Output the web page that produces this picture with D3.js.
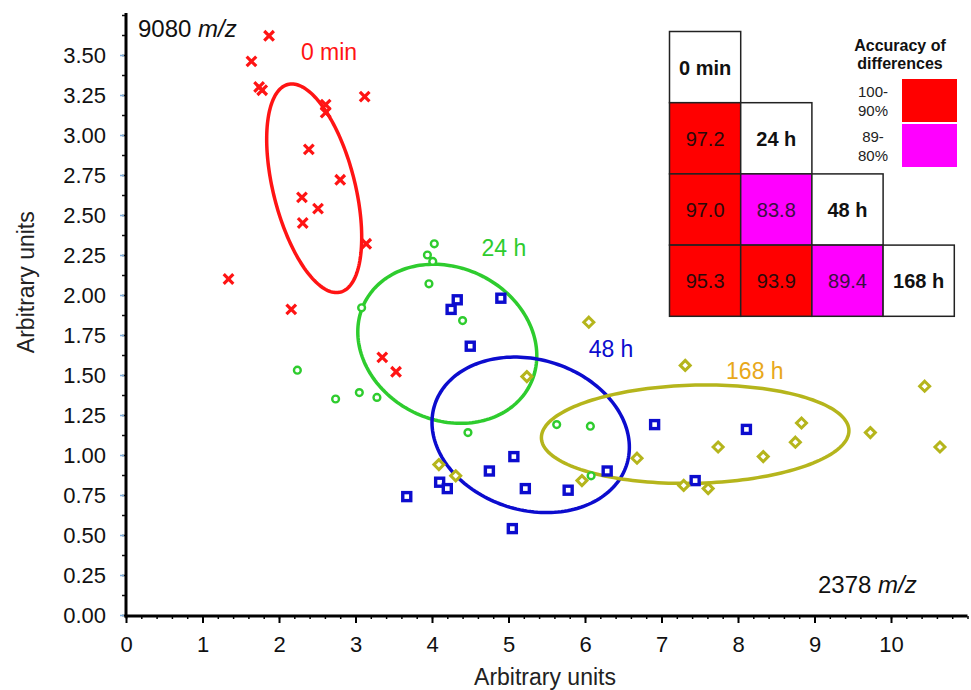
<!DOCTYPE html>
<html><head><meta charset="utf-8">
<script src="https://cdn.jsdelivr.net/npm/d3@7"></script>
<style>html,body{margin:0;padding:0;background:#fff;}svg{display:block;font-family:"Liberation Sans",Arial,sans-serif;}</style>
</head><body>
<script>
// ---- data ----
const groups = ["0 min", "24 h", "48 h", "168 h"];
const red0min = [[1.87,3.62],[1.64,3.46],[1.74,3.30],[1.78,3.28],[3.12,3.24],[2.61,3.19],[2.61,3.14],[2.39,2.91],[2.80,2.72],[2.30,2.61],[2.51,2.54],[2.31,2.45],[3.14,2.32],[1.34,2.10],[2.16,1.91],[3.35,1.61],[3.53,1.52]];
const green24h = [[4.03,2.32],[3.94,2.25],[4.01,2.21],[3.96,2.07],[3.08,1.92],[4.40,1.84],[2.24,1.53],[3.05,1.39],[2.74,1.35],[3.28,1.36],[4.47,1.14],[5.63,1.19],[6.07,1.18],[6.08,0.87]];
const blue48h = [[4.33,1.97],[4.25,1.91],[4.90,1.98],[4.50,1.68],[5.07,0.99],[4.75,0.90],[5.22,0.79],[4.10,0.83],[4.20,0.79],[3.67,0.74],[5.05,0.54],[5.78,0.78],[6.29,0.90],[6.91,1.19],[8.11,1.16],[7.44,0.84]];
const yellow168h = [[5.24,1.49],[4.09,0.94],[4.31,0.87],[6.05,1.83],[7.31,1.56],[10.44,1.43],[8.83,1.20],[9.73,1.14],[10.64,1.05],[7.74,1.05],[8.75,1.08],[8.33,0.99],[6.68,0.98],[5.96,0.84],[7.29,0.81],[7.61,0.79]];
// ellipses: centre x, centre y, half-width, half-height (data units), correlation
const ellipseCx = [2.46, 4.20, 5.29, 7.44];
const ellipseCy = [2.667, 1.695, 1.126, 1.13];
const ellipseRx = [0.621, 1.17, 1.29, 2.01];
const ellipseRy = [0.652, 0.497, 0.486, 0.3075];
const ellipseRho = [-0.47, -0.15, -0.16, 0.07];
// group label anchor points (data units)
const labelX = [2.654, 4.94, 6.34, 8.22];
const labelY = [3.47, 2.244, 1.6125, 1.475];
const xTicks = [0,1,2,3,4,5,6,7,8,9,10];
const yTicks = [0,0.25,0.5,0.75,1,1.25,1.5,1.75,2,2.25,2.5,2.75,3,3.25,3.5];
// accuracy table (lower triangle)
const accuracy = [[null],[97.2,null],[97.0,83.8,null],[95.3,93.9,89.4,null]];
const legendLabels = [["100-","90%"],["89-","80%"]];

// ---- drawing ----
const W = 971, H = 690;
const svg = d3.select("body").append("svg").attr("width", W).attr("height", H);
const x = d3.scaleLinear().domain([0, 11]).range([126, 967.5]);
const y = d3.scaleLinear().domain([0, 3.7625]).range([615, 13]);

const colors = ["#ff1414", "#2ecc2e", "#0c0cce", "#b5b51c"];
const labelColors = ["#ff1414", "#2ecc2e", "#0c0cce", "#e8a81a"];
const FONT = "Liberation Sans, Arial, sans-serif";

// axes
const gx = svg.append("g").attr("transform", `translate(0,${y(0)+1})`);
gx.call(d3.axisBottom(x).tickValues(d3.range(0, 11.01, 0.2)).tickSize(3).tickFormat(""));
gx.selectAll(".tick line").attr("stroke", "#000").attr("stroke-width", 1.5);
const gx2 = svg.append("g").attr("transform", `translate(0,${y(0)+1})`);
gx2.call(d3.axisBottom(x).tickValues(xTicks).tickSize(7).tickPadding(13).tickFormat(d3.format("d")));
gx2.selectAll(".tick line").attr("stroke", "#000").attr("stroke-width", 2);
gx2.selectAll(".tick text").attr("font-size", 22).attr("fill", "#111").attr("font-family", FONT);
gx.select(".domain").remove(); gx2.select(".domain").remove();

const gy = svg.append("g").attr("transform", `translate(${x(0)},0)`);
gy.call(d3.axisLeft(y).tickValues(d3.range(0, 3.76, 0.125)).tickSize(4).tickFormat(""));
gy.selectAll(".tick line").attr("stroke", "#111").attr("stroke-width", 1.5);
gy.select(".domain").remove();
const gy2 = svg.append("g").attr("transform", `translate(${x(0)-2},0)`);
gy2.call(d3.axisLeft(y).tickValues(yTicks).tickSize(4).tickPadding(14).tickFormat(d3.format(".2f")));
gy2.selectAll(".tick line").attr("stroke", "#7fb0e0").attr("stroke-width", 1.5);
gy2.selectAll(".tick text").attr("font-size", 22).attr("fill", "#111").attr("font-family", FONT);
gy2.select(".domain").remove();

svg.append("line").attr("x1", x(0)).attr("x2", x(0)).attr("y1", y(3.7625)).attr("y2", y(0)+2.5)
  .attr("stroke", "#000").attr("stroke-width", 3);
svg.append("line").attr("x1", x(0)-1.5).attr("x2", x(11)).attr("y1", y(0)+1).attr("y2", y(0)+1)
  .attr("stroke", "#000").attr("stroke-width", 3);

// axis titles
svg.append("text").attr("x", 545).attr("y", 685).attr("text-anchor", "middle")
  .attr("font-size", 23).attr("fill", "#222").text("Arbitrary units");
svg.append("text").attr("transform", `translate(34,${y(2.08)}) rotate(-90)`).attr("text-anchor", "middle")
  .attr("font-size", 23).attr("fill", "#222").text("Arbitrary units");

// m/z labels
const t1 = svg.append("text").attr("x", 138).attr("y", 37).attr("font-size", 24).attr("fill", "#111");
t1.append("tspan").text("9080 "); t1.append("tspan").attr("font-style", "italic").text("m/z");
const t2 = svg.append("text").attr("x", 818).attr("y", 593).attr("font-size", 24).attr("fill", "#111");
t2.append("tspan").text("2378 "); t2.append("tspan").attr("font-style", "italic").text("m/z");

// ellipses
const tt = d3.range(0, 2 * Math.PI + 0.001, Math.PI / 90);
const line = d3.line().x(d => x(d[0])).y(d => y(d[1])).curve(d3.curveLinearClosed);
groups.forEach((g, i) => {
  const r = ellipseRho[i], s = Math.sqrt(1 - r * r);
  const pts = tt.map(t => [ellipseCx[i] + ellipseRx[i] * Math.cos(t),
                            ellipseCy[i] + ellipseRy[i] * (r * Math.cos(t) + s * Math.sin(t))]);
  svg.append("path").attr("d", line(pts)).attr("fill", "none").attr("stroke", colors[i]).attr("stroke-width", 3.5);
});

// markers
const mk = svg.append("g");
red0min.forEach(d => {
  const cx = x(d[0]), cy = y(d[1]), r = 4.8;
  mk.append("path").attr("d", `M${cx-r},${cy-r}L${cx+r},${cy+r}M${cx-r},${cy+r}L${cx+r},${cy-r}`)
    .attr("stroke", colors[0]).attr("stroke-width", 3.2).attr("fill", "none");
});
green24h.forEach(d => {
  mk.append("circle").attr("cx", x(d[0])).attr("cy", y(d[1])).attr("r", 3.4)
    .attr("fill", "#fff").attr("stroke", colors[1]).attr("stroke-width", 2.4);
});
blue48h.forEach(d => {
  mk.append("rect").attr("x", x(d[0]) - 4).attr("y", y(d[1]) - 4).attr("width", 8).attr("height", 8)
    .attr("fill", "#fff").attr("stroke", colors[2]).attr("stroke-width", 3.4);
});
yellow168h.forEach(d => {
  const cx = x(d[0]), cy = y(d[1]), r = 5;
  mk.append("path").attr("d", `M${cx},${cy-r}L${cx+r},${cy}L${cx},${cy+r}L${cx-r},${cy}Z`)
    .attr("fill", "#fff").attr("stroke", colors[3]).attr("stroke-width", 3);
});

// group labels
groups.forEach((g, i) => {
  svg.append("text").attr("x", x(labelX[i])).attr("y", y(labelY[i])).attr("text-anchor", "middle")
    .attr("font-size", 23).attr("fill", labelColors[i]).text(g);
});

// accuracy table
const cell = 71.2, tx0 = 669.5, ty0 = 31.5;
const tbl = svg.append("g");
const accColor = v => v >= 90 ? "#ff0000" : "#ff00ff";
accuracy.forEach((row, ri) => {
  row.forEach((v, ci) => {
    const cx = tx0 + ci * cell, cy = ty0 + ri * cell;
    tbl.append("rect").attr("x", cx).attr("y", cy).attr("width", cell).attr("height", cell)
      .attr("fill", v === null ? "#fff" : accColor(v)).attr("stroke", "#222").attr("stroke-width", 1.5);
    tbl.append("text").attr("x", cx + cell / 2).attr("y", cy + cell / 2 + 7.5).attr("text-anchor", "middle")
      .attr("font-size", 20).attr("font-weight", v === null ? "bold" : "normal")
      .attr("fill", v === null ? "#111" : (v >= 90 ? "#2a0a0a" : "#3a1040"))
      .text(v === null ? groups[ri] : d3.format(".1f")(v));
  });
});

// legend
svg.append("text").attr("x", 900).attr("y", 51).attr("text-anchor", "middle").attr("font-size", 16)
  .attr("font-weight", "bold").attr("fill", "#111").text("Accuracy of");
svg.append("text").attr("x", 900).attr("y", 69).attr("text-anchor", "middle").attr("font-size", 16)
  .attr("font-weight", "bold").attr("fill", "#111").text("differences");
const legColors = ["#ff0000", "#ff00ff"];
legendLabels.forEach((lab, i) => {
  const top = 79 + i * 45;
  svg.append("rect").attr("x", 902).attr("y", top).attr("width", 55).attr("height", 43).attr("fill", legColors[i]);
  lab.forEach((s, j) => {
    svg.append("text").attr("x", 873).attr("y", top + 18 + j * 19).attr("text-anchor", "middle")
      .attr("font-size", 15).attr("fill", "#222").text(s);
  });
});
</script>
</body></html>
